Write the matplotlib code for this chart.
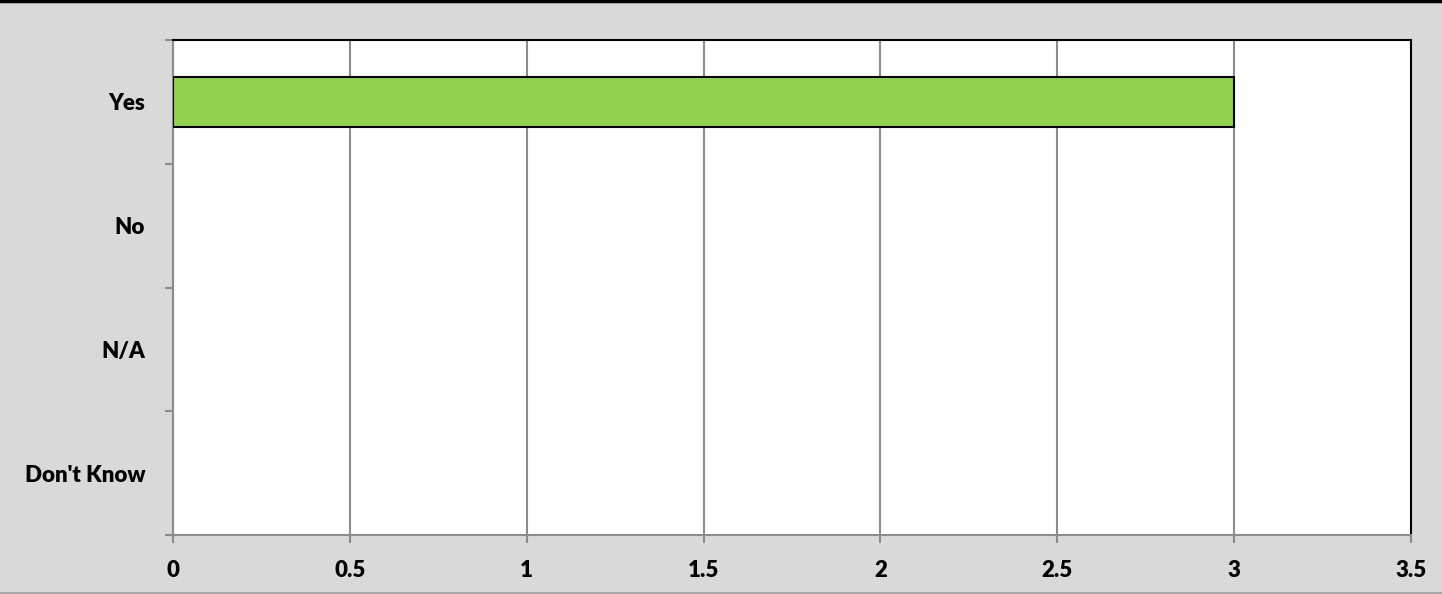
import matplotlib.pyplot as plt
import numpy as np

categories = ["Yes", "No", "N/A", "Don't Know"]
counts = [3, 0, 0, 0]
x_ticks = [0, 0.5, 1, 1.5, 2, 2.5, 3, 3.5]
x_labels = ["0", "0.5", "1", "1.5", "2", "2.5", "3", "3.5"]

plt.rcParams['font.family'] = ['Lato', 'DejaVu Sans']

fig = plt.figure(figsize=(14.42, 5.94), dpi=100, facecolor="#D9D9D9")
ax = fig.add_axes([173 / 1442, 1 - 535 / 594, (1411 - 173) / 1442, (535 - 40) / 594])
ax.set_facecolor("white")

pos = np.arange(len(categories))
edges = ["black" if c > 0 else "none" for c in counts]
ax.barh(pos, counts, height=0.4, color="#92D050", edgecolor=edges, linewidth=1.5, zorder=3)

ax.set_xlim(0, 3.5)
ax.set_ylim(len(categories) - 0.5, -0.5)
ax.set_xticks(x_ticks)
ax.set_xticklabels(x_labels, fontsize=16, fontweight="heavy")
ax.set_yticks(pos)
ax.set_yticklabels(categories, fontsize=16, fontweight="heavy")
ax.tick_params(axis="y", length=0, pad=20)
ax.set_yticks(np.arange(len(categories) + 1) - 0.5, minor=True)
ax.tick_params(axis="y", which="minor", length=6, width=1.5, color="#8C8C8C", direction="out")
ax.tick_params(axis="x", length=6, width=1.5, color="#8C8C8C", direction="out", pad=12)
ax.xaxis.grid(True, color="#8C8C8C", linewidth=1.5, zorder=0)
ax.set_axisbelow(True)

for side in ["left", "bottom"]:
    ax.spines[side].set_color("#8C8C8C")
    ax.spines[side].set_linewidth(1.5)
for side in ["top", "right"]:
    ax.spines[side].set_color("black")
    ax.spines[side].set_linewidth(1.5)

# cell border remnants along the top edge
fig.add_artist(plt.Line2D([0, 1], [0.998, 0.998], color="black", linewidth=2.5, transform=fig.transFigure))
fig.add_artist(plt.Line2D([0, 1], [0.001, 0.001], color="#A6A6A6", linewidth=1.5, transform=fig.transFigure))

fig.savefig("out.png", dpi=100, facecolor=fig.get_facecolor())
